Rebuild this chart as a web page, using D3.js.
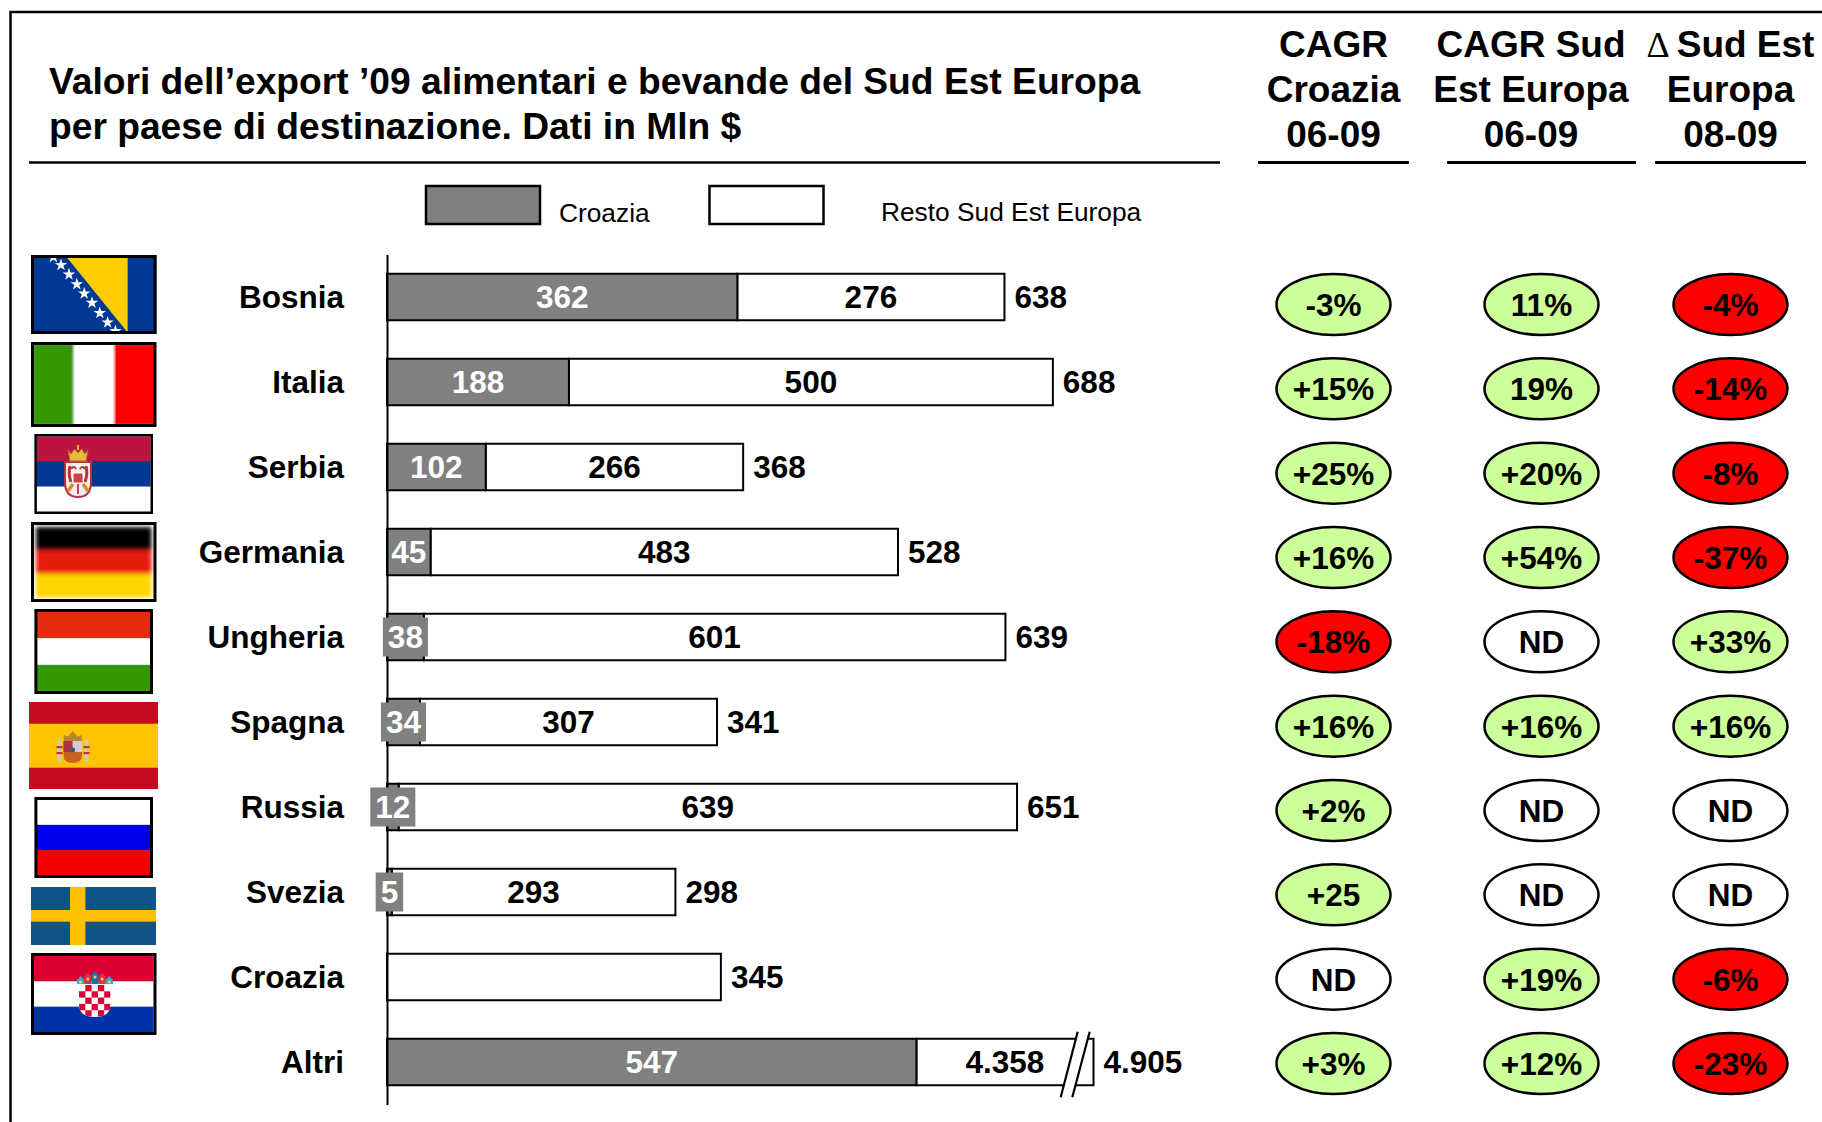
<!DOCTYPE html>
<html><head><meta charset="utf-8">
<script src="https://cdn.jsdelivr.net/npm/d3@7/dist/d3.min.js"></script>
<style>
html,body{margin:0;padding:0;background:#fff}
svg{display:block}
text{font-family:"Liberation Sans",Arial,sans-serif;fill:#000}
</style></head><body>
<svg id="c" width="1822" height="1122"></svg>
<script>
// ---- data ----
const categories = ["Bosnia","Italia","Serbia","Germania","Ungheria","Spagna","Russia","Svezia","Croazia","Altri"];
const croazia = [362,188,102,45,38,34,12,5,0,547];
const resto   = [276,500,266,483,601,307,639,293,345,4358];
const totali  = [638,688,368,528,639,341,651,298,345,4905];
const restoLabels = ["276","500","266","483","601","307","639","293","","4.358"];
const totaliLabels = ["638","688","368","528","639","341","651","298","345","4.905"];
const cagrCroazia = ["-3%","+15%","+25%","+16%","-18%","+16%","+2%","+25","ND","+3%"];
const cagrSudEst  = ["11%","19%","+20%","+54%","ND","+16%","ND","ND","+19%","+12%"];
const deltaSudEst = ["-4%","-14%","-8%","-37%","+33%","+16%","ND","ND","-6%","-23%"];
const titleLines = ["Valori dell\u2019export \u201909 alimentari e bevande del Sud Est Europa","per paese di destinazione. Dati in Mln $"];
const legendLabels = ["Croazia","Resto Sud Est Europa"];
const columns = [["CAGR","Croazia","06-09"],["CAGR Sud","Est Europa","06-09"],["Sud Est","Europa","08-09"]];
const AXIS_CAP = 730; // value at which the broken "Altri" bar is cut
const greenNegatives = ["-3%"]; // shown green in the source despite the sign

// ---- style ----
const GREY="#808080", GREEN="#CCFF99", RED="#FF0000";
const svg=d3.select("#c");
const line=(x1,y1,x2,y2,w,col)=>svg.append("line").attr("x1",x1).attr("y1",y1).attr("x2",x2).attr("y2",y2).attr("stroke",col||"#000").attr("stroke-width",w);

// frame
svg.append("path").attr("d","M10.5,1122V12H1822").attr("fill","none").attr("stroke","#000").attr("stroke-width",2.5);

// title
svg.selectAll("text.title").data(titleLines).join("text").attr("class","title")
  .attr("x",49).attr("y",(d,i)=>94+i*45.2).attr("font-size",37.2).attr("font-weight","bold").text(d=>d);
line(29,162.5,1220,162.5,2.5);

// headers
const colNames=["a","b","c"];
const colX=d3.scaleOrdinal().domain(colNames).range([1333.5,1541.5,1730.5]);
const hdrX=[1333.5,1531,1730.5];
columns.forEach((lines,c)=>{
  lines.forEach((l,i)=>{
    const t=svg.append("text").attr("x",hdrX[c]).attr("y",57+i*45).attr("text-anchor","middle")
      .attr("font-size",37).attr("font-weight","bold");
    if(c===2&&i===0){
      t.append("tspan").attr("font-family","'Liberation Serif',serif").attr("font-weight","normal").attr("font-size",36).text("\u0394 ");
    }
    t.append("tspan").text(l);
  });
});
[[1258,1409],[1447,1636],[1655,1806]].forEach(s=>line(s[0],162.5,s[1],162.5,3));

// legend
svg.append("rect").attr("x",426).attr("y",186).attr("width",114).attr("height",38).attr("fill",GREY).attr("stroke","#000").attr("stroke-width",2.5);
svg.append("rect").attr("x",709.5).attr("y",186).attr("width",114).attr("height",38).attr("fill","#fff").attr("stroke","#000").attr("stroke-width",2.5);
svg.append("text").attr("x",559).attr("y",222).attr("font-size",26.3).text(legendLabels[0]);
svg.append("text").attr("x",881).attr("y",221).attr("font-size",26.3).text(legendLabels[1]);

// scales
const x=d3.scaleLinear().domain([0,AXIS_CAP]).range([387,1093.5]);
const pad=1-46.5/85;
const y=d3.scaleBand().domain(categories).range([254.5,1104.5]).paddingInner(pad).paddingOuter(pad/2);
const rowY=d3.scalePoint().domain(categories).range([304.5,1063.5]);

const rows=categories.map((name,i)=>({name,c:croazia[i],r:resto[i],t:totali[i],rl:restoLabels[i],tl:totaliLabels[i]}));
const capT=d=>Math.min(d.t,AXIS_CAP);

// white bars
svg.selectAll("rect.rest").data(rows).join("rect").attr("class","rest")
  .attr("x",d=>x(d.c)).attr("y",d=>y(d.name)).attr("width",d=>x(capT(d))-x(d.c)).attr("height",y.bandwidth())
  .attr("fill","#fff").attr("stroke","#000").attr("stroke-width",2);
// grey bars
svg.selectAll("rect.cro").data(rows.filter(d=>d.c>0)).join("rect").attr("class","cro")
  .attr("x",x(0)).attr("y",d=>y(d.name)).attr("width",d=>x(d.c)-x(0)).attr("height",y.bandwidth())
  .attr("fill",GREY).attr("stroke","#000").attr("stroke-width",2);

// axis (category labels + vertical line)
const ax=svg.append("g").attr("transform",`translate(${x(0)},0)`).call(d3.axisLeft(y).tickSize(0).tickPadding(43));
ax.select(".domain").attr("stroke","#000").attr("stroke-width",2);
ax.selectAll("text").attr("font-size",31.5).attr("font-weight","bold").attr("font-family","Liberation Sans").attr("fill","#000").attr("dy","0.36em");

// break marks on the last bar
const last=rows[rows.length-1], by=y(last.name), bh=y.bandwidth();
const brk=[[1077.7,by-7],[1060.7,by+bh+12],[1072.3,by+bh+12],[1089.7,by-7]];
svg.append("path").attr("d","M"+brk.join("L")+"Z").attr("fill","#fff");
line(brk[0][0],brk[0][1],brk[1][0],brk[1][1],2.2);
line(brk[3][0],brk[3][1],brk[2][0],brk[2][1],2.2);

// value labels
const vSize=31.5;
const cLab=svg.selectAll("g.cl").data(rows.filter(d=>d.c>0)).join("g").attr("class","cl")
  .attr("transform",d=>`translate(${(x(0)+x(d.c))/2},${y(d.name)+bh/2})`);
cLab.each(function(d){
  const g=d3.select(this);
  const t=g.append("text").attr("text-anchor","middle").attr("dy","0.36em").attr("font-size",vSize).attr("font-weight","bold").style("fill","#fff").text(d.c);
  if(x(d.c)-x(0)<40){
    const w=t.node().getComputedTextLength()+10;
    g.insert("rect","text").attr("x",-w/2).attr("y",-19.5).attr("width",w).attr("height",39).attr("fill",GREY);
  }
});
svg.selectAll("text.rl").data(rows).join("text").attr("class","rl")
  .attr("x",d=>(x(d.c)+x(capT(d)))/2).attr("y",d=>y(d.name)+bh/2).attr("dy","0.36em")
  .attr("text-anchor","middle").attr("font-size",vSize).attr("font-weight","bold").text(d=>d.rl);
svg.selectAll("text.tl").data(rows).join("text").attr("class","tl")
  .attr("x",d=>x(capT(d))+10).attr("y",d=>y(d.name)+bh/2).attr("dy","0.36em")
  .attr("font-size",vSize).attr("font-weight","bold").text(d=>d.tl);

// ellipses
const fillFor=v=>v==="ND"?"#fff":(v[0]==="-"&&!greenNegatives.includes(v)?RED:GREEN);
[cagrCroazia,cagrSudEst,deltaSudEst].forEach((vals,c)=>{
  const g=svg.append("g");
  const cells=g.selectAll("g").data(vals).join("g").attr("transform",(d,i)=>`translate(${colX(colNames[c])},${rowY(categories[i])})`);
  cells.append("ellipse").attr("rx",57).attr("ry",30.5).attr("fill",d=>fillFor(d)).attr("stroke","#000").attr("stroke-width",2.5);
  cells.append("text").attr("text-anchor","middle").attr("dy","0.36em").attr("font-size",31.5).attr("font-weight","bold").text(d=>d);
});

// ---- flags (decoration, pictures in the reference) ----
const defs=svg.append("defs");
const blur=(id,s)=>defs.append("filter").attr("id",id).attr("x","-10%").attr("y","-10%").attr("width","120%").attr("height","120%").append("feGaussianBlur").attr("stdDeviation",s);
blur("soft",0.8);blur("softer",2);blur("tiny",0.45);
const flagBoxes=[[31,255,125.5,79],[31,342,125.5,85],[34.4,434,118.6,80],[31,522,125.5,80],[34.4,609,118.6,85],[29,702,129,87],[34.4,797,118.6,81],[31,887,125,58],[31,953,125.5,82]];
const inset=(b,k)=>[b[0]+k,b[1]+k,b[2]-2*k,b[3]-2*k];
function stripes(g,b,cols,horizontal){
  const n=cols.length;
  cols.forEach((col,i)=>{
    if(horizontal) g.append("rect").attr("x",b[0]).attr("y",b[1]+b[3]*i/n).attr("width",b[2]).attr("height",b[3]/n+0.5).attr("fill",col);
    else g.append("rect").attr("x",b[0]+b[2]*i/n).attr("y",b[1]).attr("width",b[2]/n+0.5).attr("height",b[3]).attr("fill",col);
  });
}
function border(g,b,w){
  g.append("rect").attr("x",b[0]+w/2).attr("y",b[1]+w/2).attr("width",b[2]-w).attr("height",b[3]-w).attr("fill","none").attr("stroke","#000").attr("stroke-width",w);
}
const fg=svg.append("g").attr("class","flags");
const star=d3.symbol().type(d3.symbolStar).size(48);
// Bosnia
(function(){const b=flagBoxes[0],g=fg.append("g");
  g.append("rect").attr("x",b[0]).attr("y",b[1]).attr("width",b[2]).attr("height",b[3]).attr("fill","#003893");
  g.append("path").attr("d","M66.6,257H127.6V332.5Z").attr("fill","#FFCC00");
  const cp=defs.append("clipPath").attr("id","bclip");cp.append("rect").attr("x",b[0]+3).attr("y",b[1]+3).attr("width",b[2]-6).attr("height",b[3]-6);
  const s=g.append("g").attr("clip-path","url(#bclip)");
  [[53.4,257],[61,265],[69,274.4],[76.8,284.2],[84.2,293.4],[92,302.8],[99.8,313],[107.6,322.5],[115.4,331]].forEach(p=>s.append("path").attr("d",star()).attr("transform",`translate(${p})`).attr("fill","#fff"));
  border(g,b,3);
})();
// Italia
(function(){const b=flagBoxes[1],g=fg.append("g");
  const h=g.append("g").attr("filter","url(#soft)");stripes(h,inset(b,2),["#339900","#FFFFFF","#FF0000"],false);
  border(g,b,3);
})();
// Serbia
(function(){const b=flagBoxes[2],g=fg.append("g");
  stripes(g,inset(b,2.5),["#BC1440","#003893","#FFFFFF"],true);
  const a=g.append("g").attr("filter","url(#tiny)");
  a.append("path").attr("d","M65,462H91V482Q91,497 78,497Q65,497 65,482Z").attr("fill","#F4F0F0").attr("stroke","#B5333C").attr("stroke-width",2);
  a.append("path").attr("d","M68,450L71,454L74.5,449L78,453L81.5,449L85,454L88,450L86,461H70Z").attr("fill","#E8B93C").attr("stroke","#A8741E").attr("stroke-width",1);
  a.append("path").attr("d","M78,445V450").attr("stroke","#E8B93C").attr("stroke-width",2);
  a.append("path").attr("d","M70,466Q68,474 71,482M86,466Q88,474 85,482").attr("fill","none").attr("stroke","#B5333C").attr("stroke-width",3);
  a.append("path").attr("d","M71,469Q74,465 76,469M85,469Q82,465 80,469").attr("fill","none").attr("stroke","#B5333C").attr("stroke-width",2);
  a.append("rect").attr("x",73).attr("y",473).attr("width",10).attr("height",10).attr("fill","#C9404A").attr("stroke","#fff").attr("stroke-width",1);
  a.append("path").attr("d","M68,491L73,484M88,491L83,484").attr("stroke","#D98A2A").attr("stroke-width",3.5);
  a.append("path").attr("d","M78,484V494").attr("stroke","#C9404A").attr("stroke-width",2);
  border(g,b,2.5);
})();
// Germania
(function(){const b=flagBoxes[3],g=fg.append("g");
  const h=g.append("g").attr("filter","url(#softer)");
  stripes(h,inset(b,5),["#000000","#E81C0C","#FFD500"],true);
  border(g,b,3);
})();
// Ungheria
(function(){const b=flagBoxes[4],g=fg.append("g");
  stripes(g,inset(b,2.5),["#E12C10","#FFFFFF","#339900"],true);border(g,b,3);
})();
// Spagna
(function(){const b=flagBoxes[5],g=fg.append("g");
  g.append("rect").attr("x",b[0]).attr("y",b[1]).attr("width",b[2]).attr("height",b[3]).attr("fill","#C60B1E");
  g.append("rect").attr("x",b[0]).attr("y",723.7).attr("width",b[2]).attr("height",44).attr("fill","#FFC400");
  const a=g.append("g").attr("filter","url(#tiny)");
  [57.5,84.5].forEach(cx=>{
    a.append("rect").attr("x",cx).attr("y",740).attr("width",4).attr("height",22).attr("fill","#CFC9B0");
    a.append("rect").attr("x",cx-1).attr("y",746).attr("width",6).attr("height",2.2).attr("fill","#C0303A");
    a.append("rect").attr("x",cx-1).attr("y",752).attr("width",6).attr("height",2.2).attr("fill","#C0303A");
  });
  a.append("path").attr("d","M63.5,741H82V755Q82,763 72.7,763Q63.5,763 63.5,755Z").attr("fill","#C8641E");
  a.append("rect").attr("x",63.5).attr("y",741).attr("width",9.2).attr("height",11).attr("fill","#B03040");
  a.append("rect").attr("x",72.7).attr("y",741).attr("width",9.3).attr("height",11).attr("fill","#D8C8D4");
  a.append("circle").attr("cx",72.7).attr("cy",750).attr("r",2.5).attr("fill","#3A5A80");
  a.append("path").attr("d","M64,741L63.5,735L68,736.5L72.7,731L77.5,736.5L82,735L81.5,741Z").attr("fill","#B8862A");
})();
// Russia
(function(){const b=flagBoxes[6],g=fg.append("g");
  stripes(g,inset(b,2.5),["#FFFFFF","#0000EE","#F80000"],true);border(g,b,3);
})();
// Svezia
(function(){const b=flagBoxes[7],g=fg.append("g");
  g.append("rect").attr("x",b[0]).attr("y",b[1]).attr("width",b[2]).attr("height",b[3]).attr("fill","#0F5388");
  g.append("rect").attr("x",70).attr("y",b[1]).attr("width",15.4).attr("height",b[3]).attr("fill","#FFC000");
  g.append("rect").attr("x",b[0]).attr("y",910).attr("width",b[2]).attr("height",11.7).attr("fill","#FFC000");
})();
// Croazia
(function(){const b=flagBoxes[8],g=fg.append("g");
  stripes(g,inset(b,3),["#DD0033","#FFFFFF","#0033AA"],true);
  const sx=79,sy=984,n=5,sz=6.3;
  const cp=defs.append("clipPath").attr("id","hr");cp.append("path").attr("d",`M${sx},${sy}H${sx+n*sz}V1004Q${sx+n*sz},1017 ${sx+n*sz/2},1017Q${sx},1017 ${sx},1004Z`);
  const s=g.append("g").attr("clip-path","url(#hr)");
  s.append("rect").attr("x",sx).attr("y",sy).attr("width",n*sz).attr("height",34).attr("fill","#fff");
  d3.range(n).forEach(r=>d3.range(n).forEach(q=>{if((r+q)%2===1)s.append("rect").attr("x",sx+q*sz).attr("y",sy+1+r*sz).attr("width",sz).attr("height",sz).attr("fill","#DD0033");}));
  const crown=g.append("g").attr("filter","url(#tiny)");
  ["#35A8DC","#D83048","#1C6FB0","#D83048","#35A8DC"].forEach((col,i)=>{
    const px=77+i*7.2, top=[976,973,971,973,976][i];
    crown.append("path").attr("d",`M${px},984L${px},${top+4}L${px+3.6},${top}L${px+7.2},${top+4}L${px+7.2},984Z`).attr("fill",col);
    crown.append("circle").attr("cx",px+3.6).attr("cy",top+6).attr("r",1.5).attr("fill","#F0D840");
  });
  border(g,b,3);
})();
</script>
</body></html>
